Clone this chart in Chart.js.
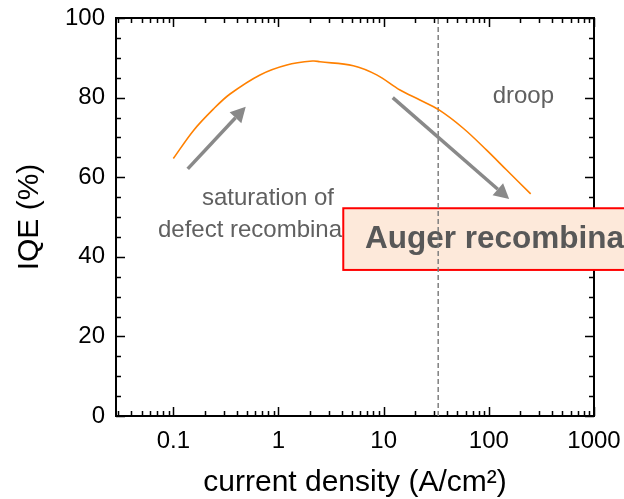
<!DOCTYPE html>
<html>
<head>
<meta charset="utf-8">
<script src="https://cdn.jsdelivr.net/npm/chart.js@4/dist/chart.umd.min.js"></script>
<style>
html,body{margin:0;padding:0;background:#ffffff;}
#wrap{width:624px;height:499px;position:relative;}
</style>
</head>
<body>
<div id="wrap"><canvas id="c"></canvas></div>
<script>
// ---- data ----
const currentDensity = [0.1, 0.155, 0.24, 0.346, 0.667, 1.2, 2.14, 2.48, 5.14, 8.58, 14.3, 22.1, 33.6, 57.1, 95.3, 147.6, 250];
const iqe = [64.7, 71.7, 77.1, 80.9, 85.7, 88.2, 89.2, 89.0, 88.0, 85.7, 81.9, 79.4, 76.9, 72.3, 66.8, 61.8, 55.8];
const xTickValues = [0.1, 1, 10, 100, 1000];
const xTickLabels = ['0.1', '1', '10', '100', '1000'];
const yTickValues = [0, 20, 40, 60, 80, 100];
const yTickLabels = ['0', '20', '40', '60', '80', '100'];
const markerDensity = [33, 33];
const markerIqe = [0, 100];

// ---- annotations (data coordinates) ----
const notes = [
  { text: 'saturation of', x: 0.794, y: 54.6, align: 'center' },
  { text: 'defect recombina', x: 0.0714, y: 46.7, align: 'left' },
  { text: 'droop', x: 213, y: 80.2, align: 'center' }
];
const augerNote = { text: 'Auger recombina', x: 6.64, y: 44.5, boxX: 4.13, boxTop: 52.2, boxBottom: 36.7 };
const arrowList = [
  { x0: 0.137, y0: 62.1, x1: 0.488, y1: 77.7 },
  { x0: 12.2, y0: 80.0, x1: 156, y1: 54.5 }
];

const FONT = "'Liberation Sans', Arial, sans-serif";

function zeroPad(s) { s.paddingLeft = 0; s.paddingRight = 0; s.paddingTop = 0; s.paddingBottom = 0; }

const overlayPlugin = {
  id: 'overlay',
  beforeDatasetsDraw(chart) {
    const { ctx, chartArea: a, scales: { x, y } } = chart;
    ctx.save();
    // inward ticks on all four sides
    ctx.strokeStyle = '#000';
    ctx.lineWidth = 1.5;
    ctx.beginPath();
    for (let e = -2; e <= 3; e++) {
      for (let m = 1; m <= 9; m++) {
        const v = m * Math.pow(10, e);
        if (v < x.min * 0.999 || v > x.max * 1.001) continue;
        const px = Math.round(x.getPixelForValue(v)) + 0.5;
        const len = m === 1 ? 9 : 5;
        ctx.moveTo(px, a.bottom); ctx.lineTo(px, a.bottom - len);
        ctx.moveTo(px, a.top); ctx.lineTo(px, a.top + len);
      }
    }
    for (let v = 0; v <= 100; v += 5) {
      const py = Math.round(y.getPixelForValue(v)) + 0.5;
      const len = v % 20 === 0 ? 9 : 5;
      ctx.moveTo(a.left, py); ctx.lineTo(a.left + len, py);
      ctx.moveTo(a.right, py); ctx.lineTo(a.right - len, py);
    }
    ctx.stroke();

    // text notes
    ctx.font = '24px ' + FONT;
    ctx.fillStyle = '#606060';
    ctx.textBaseline = 'middle';
    notes.forEach(n => {
      ctx.textAlign = n.align;
      ctx.fillText(n.text, x.getPixelForValue(n.x), y.getPixelForValue(n.y));
    });
    // Auger box
    const bx = x.getPixelForValue(augerNote.boxX);
    const bt = y.getPixelForValue(augerNote.boxTop);
    const bb = y.getPixelForValue(augerNote.boxBottom);
    ctx.fillStyle = '#fde9da';
    ctx.fillRect(bx, bt, chart.width + 20 - bx, bb - bt);
    ctx.strokeStyle = '#ff0000';
    ctx.lineWidth = 2;
    ctx.strokeRect(bx, bt, chart.width + 20 - bx, bb - bt);
    ctx.font = 'bold 31.5px ' + FONT;
    ctx.fillStyle = '#585858';
    ctx.textAlign = 'left';
    ctx.fillText(augerNote.text, x.getPixelForValue(augerNote.x), y.getPixelForValue(augerNote.y));
    ctx.restore();
  },
  afterDatasetsDraw(chart) {
    const { ctx, scales: { x, y } } = chart;
    ctx.save();
    ctx.strokeStyle = '#898989';
    ctx.fillStyle = '#898989';
    ctx.lineWidth = 3.5;
    arrowList.forEach(a => {
      const px0 = x.getPixelForValue(a.x0), py0 = y.getPixelForValue(a.y0);
      const px1 = x.getPixelForValue(a.x1), py1 = y.getPixelForValue(a.y1);
      const ang = Math.atan2(py1 - py0, px1 - px0);
      const hl = 15, hw = 8;
      const bxp = px1 - hl * Math.cos(ang), byp = py1 - hl * Math.sin(ang);
      ctx.beginPath();
      ctx.moveTo(px0, py0);
      ctx.lineTo(bxp, byp);
      ctx.stroke();
      ctx.beginPath();
      ctx.moveTo(px1, py1);
      ctx.lineTo(bxp + hw * Math.sin(ang), byp - hw * Math.cos(ang));
      ctx.lineTo(bxp - hw * Math.sin(ang), byp + hw * Math.cos(ang));
      ctx.closePath();
      ctx.fill();
    });
    ctx.restore();
  }
};

new Chart(document.getElementById('c'), {
  type: 'line',
  data: {
    datasets: [
      {
        data: currentDensity.map((v, i) => ({ x: v, y: iqe[i] })),
        borderColor: '#ff8000',
        borderWidth: 1.6,
        pointRadius: 0,
        tension: 0.35,
        fill: false,
        order: 0
      },
      {
        data: markerDensity.map((v, i) => ({ x: v, y: markerIqe[i] })),
        borderColor: '#808080',
        borderWidth: 1.5,
        borderDash: [5, 3],
        pointRadius: 0,
        fill: false,
        order: 1
      }
    ]
  },
  options: {
    responsive: true,
    maintainAspectRatio: false,
    animation: false,
    events: [],
    layout: { padding: 0 },
    plugins: { legend: { display: false }, tooltip: { enabled: false } },
    scales: {
      x: {
        type: 'logarithmic',
        position: 'bottom',
        min: 0.0285,
        max: 1000,
        grid: { display: false, drawTicks: false },
        border: { display: true, color: '#000', width: 2 },
        afterBuildTicks: s => { s.ticks = xTickValues.map(v => ({ value: v })); },
        afterFit: s => { s.height = 83; zeroPad(s); },
        ticks: {
          autoSkip: false,
          maxRotation: 0,
          padding: 11,
          color: '#000',
          font: { family: FONT, size: 24 },
          callback: v => { const i = xTickValues.indexOf(v); return i >= 0 ? xTickLabels[i] : ''; }
        },
        title: {
          display: true,
          text: 'current density (A/cm²)',
          color: '#000',
          font: { family: FONT, size: 30 },
          padding: { top: 0, bottom: -1.5 }
        }
      },
      xTop: {
        type: 'linear',
        position: 'top',
        min: 0, max: 1,
        grid: { display: false, drawTicks: false },
        border: { display: true, color: '#000', width: 2 },
        ticks: { display: false },
        afterFit: s => { s.height = 18; zeroPad(s); }
      },
      y: {
        type: 'linear',
        position: 'left',
        min: 0,
        max: 100,
        grid: { display: false, drawTicks: false },
        border: { display: true, color: '#000', width: 2 },
        afterBuildTicks: s => { s.ticks = yTickValues.map(v => ({ value: v })); },
        afterFit: s => { s.width = 116; zeroPad(s); },
        ticks: {
          padding: 11,
          color: '#000',
          font: { family: FONT, size: 24 },
          callback: v => { const i = yTickValues.indexOf(v); return i >= 0 ? yTickLabels[i] : ''; }
        },
        title: {
          display: true,
          text: 'IQE (%)',
          color: '#000',
          font: { family: FONT, size: 30 },
          padding: { top: 12, bottom: 0 }
        }
      },
      yRight: {
        type: 'linear',
        position: 'right',
        min: 0, max: 100,
        grid: { display: false, drawTicks: false },
        border: { display: true, color: '#000', width: 2 },
        ticks: { display: false },
        afterFit: s => { s.width = 30; zeroPad(s); }
      }
    }
  },
  plugins: [overlayPlugin]
});
</script>
</body>
</html>
